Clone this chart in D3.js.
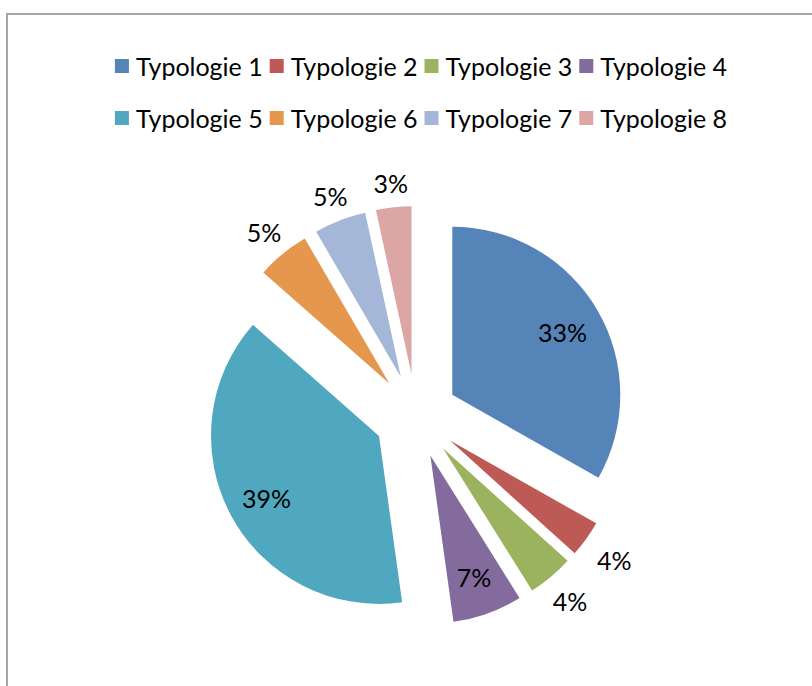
<!DOCTYPE html>
<html>
<head>
<meta charset="utf-8">
<script src="https://cdn.jsdelivr.net/npm/d3@7"></script>
<style>
    html, body { margin: 0; padding: 0; background: #ffffff; }
    #chart { width: 812px; height: 686px; }
    text { font-family: Lato, "Noto Sans", sans-serif; fill: #000000; }
</style>
</head>
<body>
<div id="chart"></div>
<script>

/**
    DATA
*/
const categories = ["Typologie 1", "Typologie 2", "Typologie 3", "Typologie 4",
                    "Typologie 5", "Typologie 6", "Typologie 7", "Typologie 8"];
const values = [33.2, 3.5, 4.4, 6.7, 38.7, 5.1, 5.0, 3.4];
const colors = ["#5585b8", "#bd5a55", "#9bb35f", "#846b9e",
                "#4fa8bf", "#e4974d", "#a4b7d9", "#dca6a4"];

/**
    1. SVG CANVAS
*/
const width = document.querySelector("#chart").clientWidth;
const height = document.querySelector("#chart").clientHeight;

const svg = d3.select("#chart")
    .append("svg")
    .attr("width", width)
    .attr("height", height);

// chart frame: only top and left edges show in the picture
svg.append("rect")
    .attr("x", 7)
    .attr("y", 14)
    .attr("width", width + 50)
    .attr("height", height + 50)
    .attr("fill", "none")
    .attr("stroke", "#a6a6a6")
    .attr("stroke-width", 2);

const fontSize = 25;

/**
    2. LEGEND (two rows of four)
*/
const legendRows = [66, 118];
const swatch = 14;
const legend = svg.append("g");

categories.forEach(function(c, i) {
    const row = Math.floor(i / 4);
    const g = legend.append("g")
        .attr("class", "item")
        .attr("data-row", row);
    g.append("rect")
        .attr("width", swatch)
        .attr("height", swatch)
        .attr("y", legendRows[row] - swatch / 2)
        .attr("fill", colors[i]);
    g.append("text")
        .attr("x", swatch + 7)
        .attr("y", legendRows[row])
        .attr("dy", "0.4em")
        .style("font-size", fontSize + "px")
        .text(c);
});

// lay out each row, centred on the chart
[0, 1].forEach(function(row) {
    const items = legend.selectAll(".item").filter(function() {
        return +this.getAttribute("data-row") === row;
    });
    const widths = [];
    items.each(function() { widths.push(this.getBBox().width); });
    const gap = 7;
    const total = d3.sum(widths) + gap * (widths.length - 1);
    let x = 421 - total / 2;
    items.each(function(d, j) {
        d3.select(this).attr("transform", `translate(${x},0)`);
        x += widths[j] + gap;
    });
});

/**
    3. EXPLODED PIE
*/
const cx = 416, cy = 416;
const radius = 168;
const explode = 42;

const pie = d3.pie().sort(null).value(function(d) { return d; });
const arcs = pie(values);
const arc = d3.arc().innerRadius(0).outerRadius(radius);

const total = d3.sum(values);

const slices = svg.append("g")
    .attr("transform", `translate(${cx},${cy})`);

arcs.forEach(function(a, i) {
    const mid = (a.startAngle + a.endAngle) / 2;
    const ox = Math.sin(mid) * explode;
    const oy = -Math.cos(mid) * explode;

    slices.append("path")
        .attr("d", arc(a))
        .attr("transform", `translate(${ox},${oy})`)
        .attr("fill", colors[i]);

    const share = a.value / total;
    const label = slices.append("text")
        .style("font-size", fontSize + "px")
        .attr("text-anchor", "middle")
        .attr("dy", "0.45em")
        .text(Math.round(share * 100) + "%");

    let dist;
    if (share > 0.06) {
        dist = radius * 0.76;
    } else {
        // outside: push the label box just clear of the rim
        const hw = label.node().getComputedTextLength() / 2 + 2;
        const hh = 12;
        const s = Math.abs(Math.sin(mid)), c = Math.abs(Math.cos(mid));
        dist = radius + 14 + Math.min(s > 0.01 ? hw / s : 1e9, c > 0.01 ? hh / c : 1e9);
    }
    label
        .attr("x", ox + Math.sin(mid) * dist)
        .attr("y", oy - Math.cos(mid) * dist);
});

</script>
</body>
</html>
